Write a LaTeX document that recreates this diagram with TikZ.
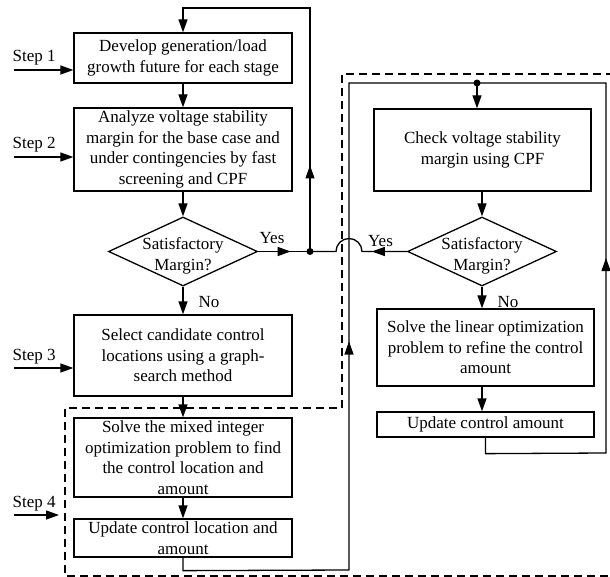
\documentclass[tikz,border=0pt]{standalone}
\usepackage{fontspec}
\setmainfont{Liberation Serif}
\usetikzlibrary{arrows.meta,shapes.geometric,decorations.markings}
\begin{document}
\begin{tikzpicture}[x=1pt,y=-1pt,line width=1.3pt,
  >={Triangle[length=13pt,width=9pt]},
  every node/.style={font=\fontsize{17}{20.5}\selectfont},
  box/.style={draw,align=center,inner sep=0pt,minimum width=218pt},
  dia/.style={draw,diamond,inner sep=0pt,minimum width=149pt,minimum height=69pt,aspect=2.16},
  lbl/.style={align=center,inner sep=0pt},
  midarr/.style={postaction={decorate},decoration={markings,mark=at position #1 with {\arrow{>}}}},
  jdot/.style={circle,fill,inner sep=0pt,minimum size=7pt},
  dashline/.style={dash pattern=on 8pt off 5pt}]
\useasboundingbox (0,0) rectangle (610,577);

% left column
\node[box,minimum height=50pt] (b1) at (183,58) {Develop generation/load\\growth future for each stage};
\node[box,minimum height=83pt] (b2) at (183,149.5) {Analyze voltage stability\\margin for the base case and\\under contingencies by fast\\screening and CPF};
\node[dia] (d1) at (183,251.5) {};
\node[lbl] (d1t) at (183,256) {Satisfactory\\Margin?};
\node[box,minimum height=81pt] (b3) at (183,355.5) {Select candidate control\\locations using a graph-\\search method};
\node[box,minimum height=79pt] (b4) at (183,457.5) {Solve the mixed integer\\optimization problem to find\\the control location and\\amount};
\node[box,minimum height=38pt] (b5) at (183,538) {Update control location and\\amount};

% right column
\node[box,minimum width=217pt,minimum height=82pt] (c1) at (482.5,150) {Check voltage stability\\margin using CPF};
\node[dia] (d2) at (482,251.5) {};
\node[lbl] (d2t) at (482,256) {Satisfactory\\Margin?};
\node[box,minimum width=217pt,minimum height=77pt] (c2) at (485.5,347.5) {Solve the linear optimization\\problem to refine the control\\amount};
\node[box,minimum width=217pt,minimum height=25pt] (c3) at (485.5,424.5) {Update control amount};

% labels
\node (yes1) at (272,238) {Yes};
\node (yes2) at (380.5,241) {Yes};
\node (no1) at (209,302) {No};
\node (no2) at (508,302) {No};

% steps
\node[anchor=base west,inner sep=0pt] (st1) at (12,62) {Step 1};
\node[anchor=base west,inner sep=0pt] (st2) at (12,149) {Step 2};
\node[anchor=base west,inner sep=0pt] (st3) at (12,360) {Step 3};
\node[anchor=base west,inner sep=0pt] (st4) at (12,507) {Step 4};
\coordinate (s1) at (14,70);
\coordinate (s2) at (14,157);
\coordinate (s3) at (14,368);
\coordinate (s4) at (14,515);
\coordinate (s4e) at (59,515);
\draw[->] (s1) -- (s1 -| b1.west);
\draw[->] (s2) -- (s2 -| b2.west);
\draw[->] (s3) -- (s3 -| b3.west);
\draw[->] (s4) -- (s4e);

% main flow
\draw[->] (b1) -- (b2);
\draw[->] (b2) -- (d1);
\draw[->] (d1) -- (b3);
\draw[->] (b3) -- (b4);
\draw[->] (b4) -- (b5);
\draw[->] (d2.north |- c1.south) -- (d2.north);
\draw[->] (d2.south) -- (d2.south |- c2.north);
\draw[->] (d2.south |- c2.south) -- (d2.south |- c3.north);

% junctions
\coordinate (j1) at (310,251.5);
\coordinate (j2) at (477,83);
\draw[midarr=32.5pt] (d1.east) -- (j1);
\draw[midarr=35pt] (d2.west) -- (362,251.5) arc[start angle=0,end angle=180,radius=13pt] -- (j1);
\draw[->,midarr=86pt] (j1) -- (310,8) -- (b1.north |- 0,8) -- (b1.north);
\draw[midarr=407.5pt] (b5.south) -- ++(0,13) -- (349,570) -- (349,83) -- (j2);
\draw[midarr=331.5pt] (c3.south) -- ++(0,16) -- (606,453) -- (606,83) -- (j2);
\draw[->] (j2) -- (j2 |- c1.north);
\node[jdot] (dj1) at (j1) {};
\node[jdot] (dj2) at (j2) {};

% dashed region
\draw[dashline] (614,74) -- (342,74) -- (342,408) -- (65,408) -- (65,576) -- (614,576);
\end{tikzpicture}
\end{document}
